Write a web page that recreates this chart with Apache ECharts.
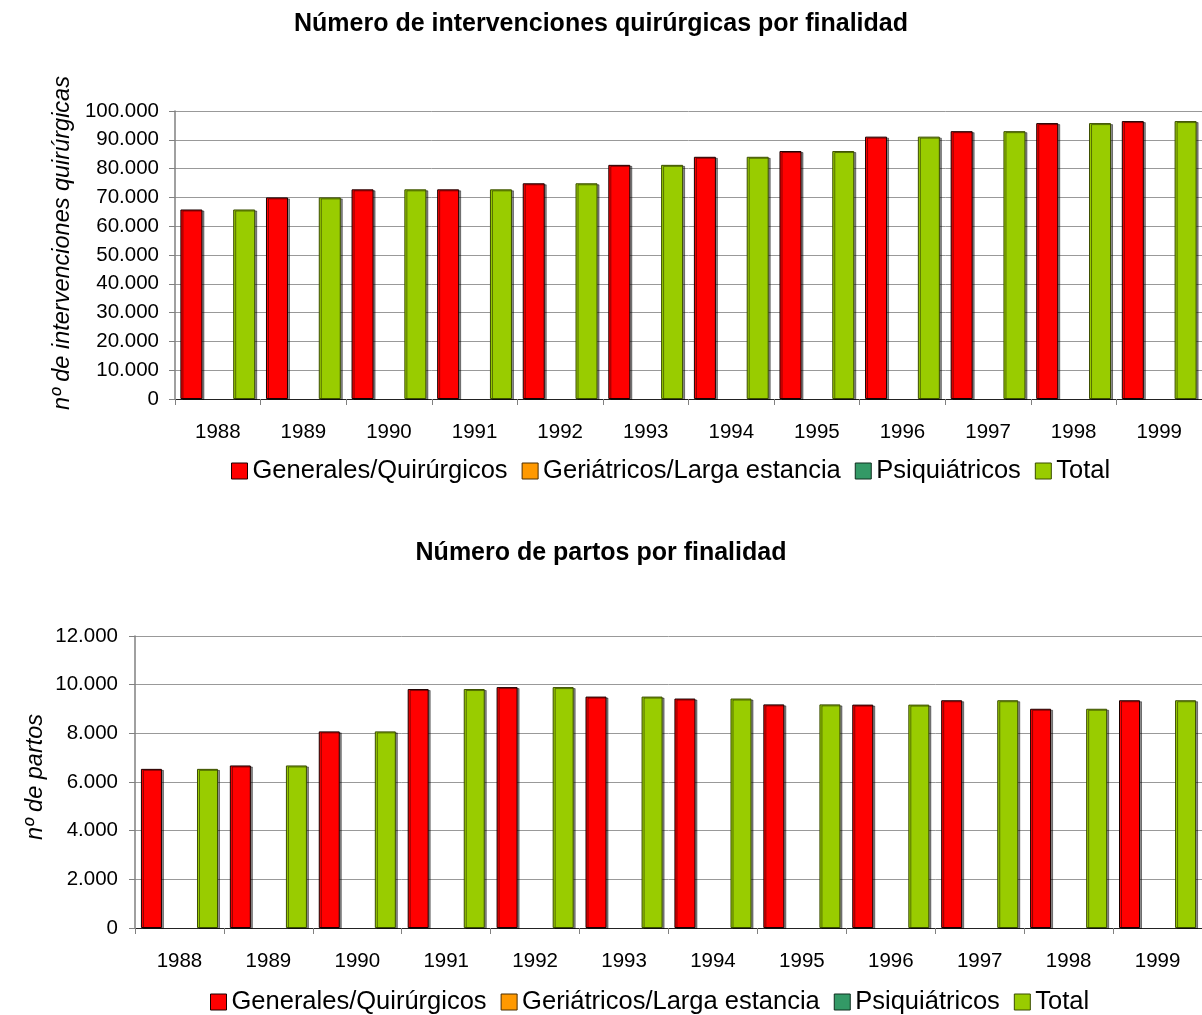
<!DOCTYPE html>
<html>
<head>
<meta charset="utf-8">
<script src="https://cdn.jsdelivr.net/npm/echarts@6/dist/echarts.min.js"></script>
<style>
  html, body { margin: 0; padding: 0; background: #fff; }
  #chart { width: 1202px; height: 1015px; }
</style>
</head>
<body>
<div id="chart"></div>
<script>
const years = ['1988', '1989', '1990', '1991', '1992', '1993', '1994', '1995', '1996', '1997', '1998', '1999']
const seriesNames = ['Generales/Quirúrgicos', 'Geriátricos/Larga estancia', 'Psiquiátricos', 'Total']

// intervenciones quirúrgicas
const intervGenerales = [65800, 70000, 72800, 72800, 74900, 81300, 84100, 86100, 91100, 93000, 95800, 96500]
const intervGeriatricos = [0, 0, 0, 0, 0, 0, 0, 0, 0, 0, 0, 0]
const intervPsiquiatricos = [0, 0, 0, 0, 0, 0, 0, 0, 0, 0, 0, 0]
const intervTotal = [65800, 70000, 72800, 72800, 74900, 81300, 84100, 86100, 91100, 93000, 95800, 96500]

// partos
const partosGenerales = [6540, 6680, 8080, 9820, 9900, 9510, 9430, 9190, 9180, 9360, 9010, 9360]
const partosGeriatricos = [0, 0, 0, 0, 0, 0, 0, 0, 0, 0, 0, 0]
const partosPsiquiatricos = [0, 0, 0, 0, 0, 0, 0, 0, 0, 0, 0, 0]
const partosTotal = [6540, 6680, 8080, 9820, 9900, 9510, 9430, 9190, 9180, 9360, 9010, 9360]

const colors = ['#ff0000', '#ff9900', '#339966', '#99cc00']
const borders = ['#1a0000', '#4d2e00', '#0f2e1f', '#3a4d00']
const font = 'Liberation Sans, Arial, sans-serif'

const thousands = (v) => String(v).replace(/\B(?=(\d{3})+(?!\d))/g, '.')

const chart = echarts.init(document.getElementById('chart'))

function barSeries (idx, data, axis, width, gap) {
  // the two empty series get no outline, so nothing shows on the baseline
  const empty = idx === 1 || idx === 2
  return {
    name: seriesNames[idx],
    type: 'bar',
    xAxisIndex: axis,
    yAxisIndex: axis,
    data: data,
    barWidth: width,
    barGap: gap,
    animation: false,
    itemStyle: {
      color: colors[idx],
      borderColor: borders[idx],
      borderWidth: empty ? 0 : 1,
      shadowColor: empty ? 'rgba(0,0,0,0)' : 'rgba(0,0,0,0.45)',
      shadowOffsetX: 2,
      shadowOffsetY: 1,
      shadowBlur: 0
    }
  }
}

function xAxis (grid) {
  return {
    type: 'category',
    gridIndex: grid,
    data: years,
    axisLine: { lineStyle: { color: '#222', width: 1 } },
    axisTick: { show: true, length: 6, lineStyle: { color: '#808080' } },
    axisLabel: { color: '#000', fontSize: 20.5, fontFamily: font, margin: 23 },
    splitLine: { show: false }
  }
}

function yAxis (grid, max, interval, margin) {
  return {
    type: 'value',
    gridIndex: grid,
    min: 0,
    max: max,
    interval: interval,
    axisLine: { show: true, lineStyle: { color: '#808080', width: 1.5 } },
    axisTick: { show: true, length: 6, lineStyle: { color: '#808080' } },
    axisLabel: { color: '#000', fontSize: 20.5, fontFamily: font, margin: margin, formatter: thousands },
    splitLine: { lineStyle: { color: '#999', width: 1 } }
  }
}

const legendData = seriesNames.map((name, i) => ({
  name: name,
  itemStyle: { color: colors[i], borderColor: borders[i], borderWidth: 1, shadowColor: 'rgba(0,0,0,0)' }
}))

const legendStyle = {
  itemWidth: 16,
  itemHeight: 16,
  itemGap: 14,
  icon: 'rect',
  textStyle: { color: '#000', fontSize: 25.5, fontFamily: font },
  data: legendData
}

const options = {
  backgroundColor: '#fff',
  title: [
    {
      text: 'Número de intervenciones quirúrgicas por finalidad',
      left: 'center',
      top: 7,
      textStyle: { color: '#000', fontSize: 25, fontWeight: 'bold', fontFamily: font }
    },
    {
      text: 'Número de partos por finalidad',
      left: 'center',
      top: 536,
      textStyle: { color: '#000', fontSize: 25, fontWeight: 'bold', fontFamily: font }
    }
  ],
  legend: [
    Object.assign({ left: 226, top: 453 }, legendStyle),
    Object.assign({ left: 205, top: 984 }, legendStyle)
  ],
  grid: [
    { left: 175, top: 111, width: 1037, height: 288 },
    { left: 135, top: 636, width: 1069, height: 292 }
  ],
  xAxis: [xAxis(0), xAxis(1)],
  yAxis: [yAxis(0, 100000, 10000, 16), yAxis(1, 12000, 2000, 17)],
  graphic: [
    {
      type: 'text',
      x: 62,
      y: 243,
      rotation: Math.PI / 2,
      style: {
        text: 'nº de intervenciones quirúrgicas',
        fontSize: 23.5,
        fontStyle: 'italic',
        fontFamily: font,
        fill: '#000',
        textAlign: 'center',
        textVerticalAlign: 'middle'
      }
    },
    {
      type: 'text',
      x: 35,
      y: 777,
      rotation: Math.PI / 2,
      style: {
        text: 'nº de partos',
        fontSize: 23.5,
        fontStyle: 'italic',
        fontFamily: font,
        fill: '#000',
        textAlign: 'center',
        textVerticalAlign: 'middle'
      }
    }
  ],
  series: [
    barSeries(0, intervGenerales, 0, 22, '-20%'),
    barSeries(1, intervGeriatricos, 0, 22, '-20%'),
    barSeries(2, intervPsiquiatricos, 0, 22, '-20%'),
    barSeries(3, intervTotal, 0, 22, '-20%'),
    barSeries(0, partosGenerales, 1, 21, '-11%'),
    barSeries(1, partosGeriatricos, 1, 21, '-11%'),
    barSeries(2, partosPsiquiatricos, 1, 21, '-11%'),
    barSeries(3, partosTotal, 1, 21, '-11%')
  ]
}

chart.setOption(options)
</script>
</body>
</html>
